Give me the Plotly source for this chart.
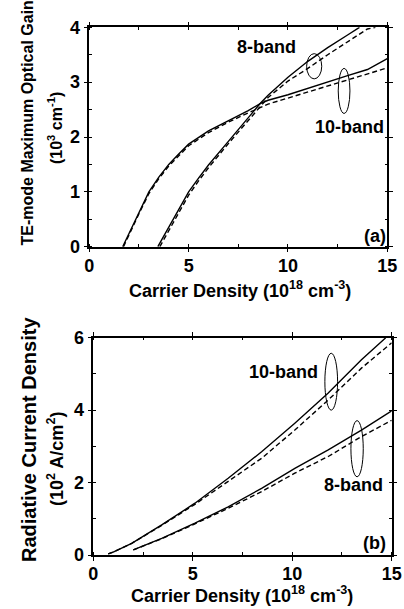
import plotly.graph_objects as go

# ---------- (a) TE-mode maximum optical gain (10^3 cm^-1) ----------
a10_solid_x = [1.68, 2.0, 2.5, 3.0, 3.5, 4.0, 4.5, 5.0, 6.0, 7.0, 8.0, 8.6, 9.0, 10.0, 11.0, 12.0, 13.0, 14.0, 15.0]
a10_solid_y = [0.0, 0.25, 0.63, 1.0, 1.27, 1.5, 1.69, 1.87, 2.11, 2.30, 2.48, 2.61, 2.67, 2.77, 2.89, 3.0, 3.12, 3.23, 3.43]
a10_dash_x = [1.72, 2.0, 2.5, 3.0, 3.5, 4.0, 4.5, 5.0, 6.0, 7.0, 8.0, 9.0, 10.0, 11.0, 12.0, 13.0, 14.0, 15.0]
a10_dash_y = [0.0, 0.22, 0.60, 0.97, 1.24, 1.47, 1.66, 1.84, 2.08, 2.27, 2.44, 2.60, 2.71, 2.82, 2.93, 3.04, 3.14, 3.26]
a8_solid_x = [3.45, 4.0, 4.5, 5.0, 5.5, 6.0, 7.0, 8.0, 8.6, 9.0, 10.0, 11.0, 12.0, 13.0, 13.6]
a8_solid_y = [0.0, 0.36, 0.67, 1.0, 1.25, 1.49, 1.92, 2.35, 2.61, 2.76, 3.09, 3.38, 3.63, 3.86, 4.0]
a8_dash_x = [3.55, 4.0, 4.5, 5.0, 5.5, 6.0, 7.0, 8.0, 9.0, 10.0, 11.0, 12.0, 13.0, 14.0, 14.4]
a8_dash_y = [0.0, 0.30, 0.62, 0.94, 1.2, 1.44, 1.88, 2.30, 2.72, 3.02, 3.25, 3.5, 3.74, 3.97, 4.0]

# ---------- (b) Radiative current density (10^2 A/cm^2) ----------
b10_solid_x = [0.75, 1.0, 1.93, 3.44, 5.11, 6.78, 8.46, 10.13, 11.81, 13.48, 14.7]
b10_solid_y = [0.03, 0.08, 0.32, 0.83, 1.43, 2.12, 2.85, 3.64, 4.47, 5.39, 6.0]
b10_dash_x = [0.75, 1.0, 1.93, 3.44, 5.11, 6.78, 8.46, 10.13, 11.81, 13.48, 15.0]
b10_dash_y = [0.03, 0.08, 0.32, 0.82, 1.40, 2.03, 2.67, 3.45, 4.28, 5.16, 5.86]
b8_solid_x = [2.01, 3.44, 5.11, 6.78, 8.46, 10.13, 11.81, 13.48, 15.0]
b8_solid_y = [0.14, 0.46, 0.88, 1.33, 1.84, 2.39, 2.90, 3.45, 3.98]
b8_dash_x = [2.01, 3.44, 5.11, 6.78, 8.46, 10.13, 11.81, 13.48, 15.0]
b8_dash_y = [0.14, 0.45, 0.86, 1.29, 1.75, 2.26, 2.72, 3.27, 3.72]

x_ticks = [0, 5, 10, 15]
a_y_ticks = [0, 1, 2, 3, 4]
b_y_ticks = [0, 2, 4, 6]

FONT = "Liberation Sans, Arial, Helvetica, sans-serif"
W, H = 404, 609

fig = go.Figure()

def add(x, y, xa, ya, dash):
    fig.add_trace(go.Scatter(
        x=x, y=y, xaxis=xa, yaxis=ya, mode="lines",
        line=dict(color="black", width=1.4, dash=("5px,3px" if dash else "solid")),
        showlegend=False, hoverinfo="skip"))

add(a10_solid_x, a10_solid_y, "x", "y", False)
add(a10_dash_x, a10_dash_y, "x", "y", True)
add(a8_solid_x, a8_solid_y, "x", "y", False)
add(a8_dash_x, a8_dash_y, "x", "y", True)
add(b10_solid_x, b10_solid_y, "x2", "y2", False)
add(b10_dash_x, b10_dash_y, "x2", "y2", True)
add(b8_solid_x, b8_solid_y, "x2", "y2", False)
add(b8_dash_x, b8_dash_y, "x2", "y2", True)

def px(v):
    return v / W

def py(v):
    return 1 - v / H

axis_common = dict(
    showgrid=False, zeroline=False, showline=True, linecolor="black", linewidth=1.5,
    mirror="ticks", ticks="outside", ticklen=4, tickwidth=1.2, tickcolor="black",
    automargin=False,
    tickfont=dict(family=FONT, size=18, color="black", weight="bold"),
)

fig.update_layout(
    width=W, height=H, margin=dict(l=0, r=0, t=0, b=0, pad=0, autoexpand=False),
    paper_bgcolor="white", plot_bgcolor="white",
    xaxis=dict(domain=[px(89.3), px(387.3)], range=[0, 15], tickvals=x_ticks, anchor="y",
               ticklabelstandoff=-2,
               minor=dict(dtick=2.5, ticks="inside", ticklen=3, tickcolor="black"), **axis_common),
    yaxis=dict(domain=[py(246.7), py(27.3)], range=[0, 4], tickvals=a_y_ticks, anchor="x",
               minor=dict(dtick=0.5, ticks="inside", ticklen=3, tickcolor="black"), **axis_common),
    xaxis2=dict(domain=[px(93.3), px(391.7)], range=[0, 15], tickvals=x_ticks, anchor="y2",
                ticklabelstandoff=-2,
                minor=dict(dtick=2.5, ticks="inside", ticklen=3, tickcolor="black"), **axis_common),
    yaxis2=dict(domain=[py(555), py(337.7)], range=[0, 6], tickvals=b_y_ticks, anchor="x2",
                minor=dict(dtick=1, ticks="inside", ticklen=3, tickcolor="black"), **axis_common),
)

# ellipses
ell = dict(type="circle", line=dict(color="black", width=1), fillcolor="rgba(0,0,0,0)")
fig.add_shape(xref="x", yref="y", x0=10.94, x1=11.70, y0=3.06, y1=3.52, **ell)
fig.add_shape(xref="x", yref="y", x0=12.53, x1=13.12, y0=2.43, y1=3.25, **ell)
fig.add_shape(xref="x2", yref="y2", x0=11.64, x1=12.28, y0=4.0, y1=5.57, **ell)
fig.add_shape(xref="x2", yref="y2", x0=12.95, x1=13.57, y0=2.16, y1=3.71, **ell)

def ann(text, x, y, xref, yref, size, angle=0, xanchor="center"):
    fig.add_annotation(text=text, x=x, y=y, xref=xref, yref=yref, showarrow=False,
                       textangle=angle, xanchor=xanchor, yanchor="middle",
                       font=dict(family=FONT, size=size, color="black", weight="bold"))

ann("8-band", 8.93, 3.64, "x", "y", 18)
ann("10-band", 13.12, 2.19, "x", "y", 18)
ann("(a)", 14.38, 0.19, "x", "y", 18)
ann("10-band", 9.58, 5.06, "x2", "y2", 18)
ann("8-band", 13.1, 1.92, "x2", "y2", 18)
ann("(b)", 14.16, 0.32, "x2", "y2", 18)

# axis titles
ann("TE-mode Maximum Optical Gain", px(27), py(123.5), "paper", "paper", 16, -90)
ann("(10<sup>3</sup> cm<sup>-1</sup>)", px(55), py(128), "paper", "paper", 16, -90)
ann("Carrier Density (10<sup>18</sup> cm<sup>-3</sup>)", px(240), py(289), "paper", "paper", 18)
ann("Radiative Current Density", px(29), py(440), "paper", "paper", 20, -90)
ann("(10<sup>2</sup> A/cm<sup>2</sup>)", px(55), py(459), "paper", "paper", 18, -90)
ann("Carrier Density (10<sup>18</sup> cm<sup>-3</sup>)", px(242), py(594), "paper", "paper", 18)

fig.write_html("out.html", config={"displayModeBar": False},
               post_script="document.body.style.margin='0';document.body.style.overflow='hidden';")
